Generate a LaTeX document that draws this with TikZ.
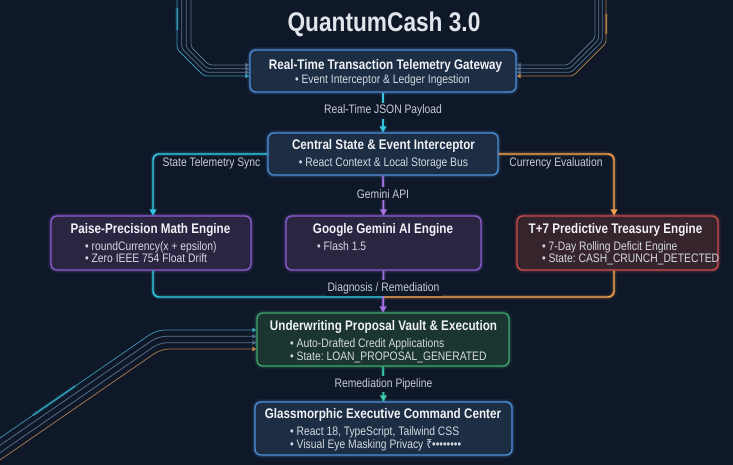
\documentclass[tikz,border=0pt]{standalone}
\usepackage{fontspec}
\setmainfont{Liberation Sans}[FakeStretch=0.84]
\newfontfamily\rupfont{Noto Sans}[FakeStretch=0.84]
\usetikzlibrary{arrows.meta,calc}
\frenchspacing
\definecolor{bg}{HTML}{0F1828}
\definecolor{titletxt}{HTML}{E2E6EC}
\definecolor{boxblue}{HTML}{4C8ED8}
\definecolor{fillblue}{HTML}{1C2D44}
\definecolor{boxpurple}{HTML}{8B5CD0}
\definecolor{fillpurple}{HTML}{2A2642}
\definecolor{boxred}{HTML}{CC4B4B}
\definecolor{fillred}{HTML}{37252D}
\definecolor{boxgreen}{HTML}{3DA56E}
\definecolor{fillgreen}{HTML}{1B3531}
\definecolor{qcyan}{HTML}{33C4E0}
\definecolor{qorange}{HTML}{F0A04B}
\definecolor{qpurple}{HTML}{A774E8}
\definecolor{qteal}{HTML}{3CC9A8}
\definecolor{qmint}{HTML}{5EE6C8}
\definecolor{grayline}{HTML}{56708E}
\definecolor{dimcyan}{HTML}{3A93AE}
\definecolor{dimorange}{HTML}{A8784F}
\definecolor{txt}{HTML}{F0F2F6}
\definecolor{bulltxt}{HTML}{D5DAE2}
\definecolor{lbltxt}{HTML}{C8CDD6}
\begin{document}
\frenchspacing
\begin{tikzpicture}[x=1pt,y=-1pt,
  box/.style={rectangle, rounded corners=6pt, inner sep=0pt, line width=1.3pt},
  bluebox/.style={box, draw=boxblue, fill=fillblue,
     preaction={draw=boxblue, line width=6pt, opacity=0.10},
     preaction={draw=boxblue, line width=3.2pt, opacity=0.22}},
  purplebox/.style={box, draw=boxpurple, fill=fillpurple,
     preaction={draw=boxpurple, line width=6pt, opacity=0.10},
     preaction={draw=boxpurple, line width=3.2pt, opacity=0.22}},
  redbox/.style={box, draw=boxred, fill=fillred,
     preaction={draw=boxred, line width=6pt, opacity=0.10},
     preaction={draw=boxred, line width=3.2pt, opacity=0.22}},
  greenbox/.style={box, draw=boxgreen, fill=fillgreen,
     preaction={draw=boxgreen, line width=6pt, opacity=0.10},
     preaction={draw=boxgreen, line width=3.2pt, opacity=0.22}},
  ttl/.style={anchor=base, inner sep=0pt, text=txt, font=\bfseries\fontsize{13.9}{16}\selectfont},
  bul/.style={anchor=base west, inner sep=0pt, text=bulltxt, font=\fontsize{12.3}{14}\selectfont},
  bulc/.style={anchor=base, inner sep=0pt, text=bulltxt, font=\fontsize{12.3}{14}\selectfont},
  lbl/.style={anchor=base, inner sep=2pt, fill=bg, text=lbltxt, font=\fontsize{12.3}{14}\selectfont},
  lblfree/.style={anchor=base, inner sep=0pt, text=lbltxt, font=\fontsize{12.3}{14}\selectfont},
  tip/.style={-{Triangle[length=6pt,width=7pt]}},
  smalltip/.style={-{Triangle[length=4pt,width=4pt]}},
  conn/.style={line width=1.4pt,
     preaction={draw=#1, -, line width=5pt, opacity=0.10},
     preaction={draw=#1, -, line width=2.8pt, opacity=0.25}, draw=#1},
  bundle/.style={line width=0.75pt, rounded corners=3pt, smalltip},
  glowseg/.style={line cap=round, draw=#1, opacity=0.6,
     preaction={draw=#1, line width=4pt, opacity=0.10},
     preaction={draw=#1, line width=2.2pt, opacity=0.18}, line width=0.9pt}
]
\fill[bg] (0,0) rectangle (733,465);
\useasboundingbox (0,0) rectangle (733,465);

% ---------- background bundles: free ends ----------
\coordinate (tl0) at (177,0);
\coordinate (tl1) at (181.67,0);
\coordinate (tl2) at (186.33,0);
\coordinate (tl3) at (191,0);
\coordinate (tr0) at (606,0);
\coordinate (tr1) at (602.33,0);
\coordinate (tr2) at (598.67,0);
\coordinate (tr3) at (595,0);
\coordinate (bl0) at (0,438);
\coordinate (bl1) at (0,445.3);
\coordinate (bl2) at (0,452.7);
\coordinate (bl3) at (0,460);

% ---------- boxes ----------
\node[bluebox, minimum width=266pt, minimum height=42pt] (b1) at (383,71) {};
\node[bluebox, minimum width=230pt, minimum height=42pt] (b2) at (383,154) {};
\node[purplebox, minimum width=200pt, minimum height=54pt] (b3) at (151,243) {};
\node[purplebox, minimum width=195pt, minimum height=54pt] (b4) at (383.5,243) {};
\node[redbox, minimum width=201pt, minimum height=54pt] (b5) at (617.5,243) {};
\node[greenbox, minimum width=252pt, minimum height=53pt] (b6) at (383,339.5) {};
\node[bluebox, minimum width=257pt, minimum height=53pt] (b7) at (383.5,428.5) {};

% top-left bundle
\draw[bundle, draw=grayline] (tl3) -- (191,47) -- (209,65) -- ([yshift=6pt]b1.west);
\draw[bundle, draw=grayline] (tl2) -- (186.33,47.67) -- (207.33,68.67) -- ([yshift=2.33pt]b1.west);
\draw[bundle, draw=grayline] (tl1) -- (181.67,48.33) -- (205.67,72.33) -- ([yshift=-1.33pt]b1.west);
\draw[bundle, draw=dimcyan, -{Triangle[length=4pt,width=4.5pt,fill=qcyan]}] (tl0) -- (177,49) -- (204,76) -- ([yshift=-5pt]b1.west);
\draw[glowseg=qcyan] (177,8) -- (177,30);

% top-right bundle
\draw[bundle, draw=grayline] (tr3) -- (595,38) -- (568,65) -- ([yshift=6pt]b1.east);
\draw[bundle, draw=grayline] (tr2) -- (598.67,39.67) -- (569.67,68.67) -- ([yshift=2.33pt]b1.east);
\draw[bundle, draw=grayline] (tr1) -- (602.33,41.33) -- (571.33,72.33) -- ([yshift=-1.33pt]b1.east);
\draw[bundle, draw=dimorange, -{Triangle[length=4pt,width=4.5pt,fill=qorange]}] (tr0) -- (606,43) -- (573,76) -- ([yshift=-5pt]b1.east);
\draw[glowseg=qorange] (606,14) -- (606,34);

% bottom-left bundle
\draw[bundle, rounded corners=8pt, draw=dimorange, -{Triangle[length=4pt,width=4.5pt,fill=qorange]}] (bl3) -- (161,349) -- ([yshift=-9.5pt]b6.west);
\draw[bundle, rounded corners=8pt, draw=grayline] (bl2) -- (159.5,342.7) -- ([yshift=-3.2pt]b6.west);
\draw[bundle, rounded corners=8pt, draw=grayline] (bl1) -- (158,336.3) -- ([yshift=3.2pt]b6.west);
\draw[bundle, rounded corners=8pt, draw=dimcyan, -{Triangle[length=4pt,width=4.5pt,fill=qcyan]}] (bl0) -- (156.5,330) -- ([yshift=9.5pt]b6.west);
\draw[glowseg=qcyan] (33,415.2) -- (75,386.2);

% ---------- title ----------
\node[anchor=base, inner sep=0pt, text=titletxt, font=\bfseries\fontsize{27}{30}\selectfont] (title) at (384,32) {QuantumCash 3.0};

% ---------- connectors ----------
\coordinate (m) at (383,297);
\draw[conn=qcyan, tip] (b1.south) -- (b2.north);
\draw[conn=qpurple, tip] (b2.south) -- (b4.north);
\draw[conn=qcyan, tip, rounded corners=6pt] (b2.west) -| ([xshift=2pt]b3.north);
\draw[conn=qorange, tip, rounded corners=6pt] (b2.east) -| ([xshift=-3.5pt]b5.north);
\draw[conn=qcyan, rounded corners=6pt] ([xshift=2pt]b3.south) |- (m);
\draw[conn=qorange, rounded corners=6pt] ([xshift=-3.5pt]b5.south) |- (m);
\draw[conn=qpurple, tip] (b4.south) -- (b6.north);
\draw[conn=qteal, -{Triangle[length=6pt,width=7pt,fill=qmint]}] (b6.south) -- (b7.north);

% ---------- connector labels ----------
\node[lbl] (l1) at (383,114) {Real-Time JSON Payload};
\node[lbl] (l2) at (383,198) {Gemini API};
\node[lblfree] (l3) at (211.5,167) {State Telemetry Sync};
\node[lblfree] (l4) at (556,167) {Currency Evaluation};
\node[lbl] (l5) at (383.5,291) {Diagnosis / Remediation};
\node[lbl] (l6) at (383.5,387) {Remediation Pipeline};

% ---------- box texts ----------
\node[ttl] (b1t) at (385.5,69.5) {Real-Time Transaction Telemetry Gateway};
\node[bulc] (b1a) at (382.5,84) {• Event Interceptor \& Ledger Ingestion};

\node[ttl] (b2t) at (383.5,149.5) {Central State \& Event Interceptor};
\node[bulc] (b2a) at (383.5,167) {• React Context \& Local Storage Bus};

\node[ttl] (b3t) at (150.5,233.5) {Paise-Precision Math Engine};
\node[bul] (b3a) at (85,250.5) {• roundCurrency(x + epsilon)};
\node[bul] (b3b) at (85,262.5) {• Zero IEEE 754 Float Drift};

\node[ttl] (b4t) at (383,233.5) {Google Gemini AI Engine};
\node[bul] (b4a) at (317,250.5) {• Flash 1.5};

\node[ttl] (b5t) at (615.5,233.5) {T+7 Predictive Treasury Engine};
\node[bul] (b5a) at (542,250.5) {• 7-Day Rolling Deficit Engine};
\node[bul] (b5b) at (542,262.5) {• State: CASH\_CRUNCH\_DETECTED};

\node[ttl] (b6t) at (383.5,330.5) {Underwriting Proposal Vault \& Execution};
\node[bul] (b6a) at (290,347) {• Auto-Drafted Credit Applications};
\node[bul] (b6b) at (290,360) {• State: LOAN\_PROPOSAL\_GENERATED};

\node[ttl] (b7t) at (383,418.5) {Glassmorphic Executive Command Center};
\node[bul] (b7a) at (290,435) {• React 18, TypeScript, Tailwind CSS};
\node[bul] (b7b) at (290,448) {• Visual Eye Masking Privacy {\rupfont ₹}••••••••};
\end{tikzpicture}
\end{document}
